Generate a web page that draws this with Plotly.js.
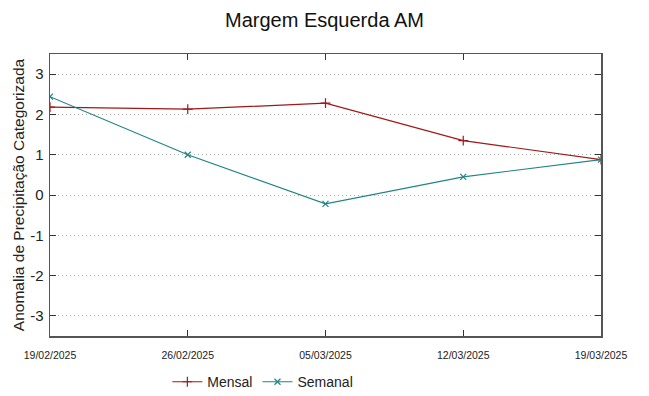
<!DOCTYPE html>
<html><head><meta charset="utf-8">
<script src="https://cdn.plot.ly/plotly-3.0.1.min.js"></script>
<style>html,body{margin:0;padding:0;background:#fff}#chart{width:649px;height:396px}</style>
</head><body><div id="chart"></div>
<script>
const dates = ['2025-02-19','2025-02-26','2025-03-05','2025-03-12','2025-03-19'];
const tickLabels = ['19/02/2025','26/02/2025','05/03/2025','12/03/2025','19/03/2025'];
const mensal = [2.18, 2.13, 2.28, 1.35, 0.88];
const semanal = [2.44, 1.00, -0.22, 0.45, 0.88];
const yTicks = [-3,-2,-1,0,1,2,3];
const yTickText = ['-3','-2','-1','0','1','2','3'];

const traces = [
  {x: dates, y: mensal, name: 'Mensal', type: 'scatter', mode: 'lines+markers',
   line: {color: '#a01818', width: 1.2},
   marker: {symbol: 'cross-thin', size: 7, line: {color: '#a01818', width: 1.2}}},
  {x: dates, y: semanal, name: 'Semanal', type: 'scatter', mode: 'lines+markers',
   line: {color: '#1f8585', width: 1.2},
   marker: {symbol: 'x-thin', size: 6, line: {color: '#1f8585', width: 1.2}}}
];

const layout = {
  width: 649, height: 396,
  margin: {l: 50, r: 48, t: 54, b: 60},
  paper_bgcolor: '#fff', plot_bgcolor: '#fff',
  font: {family: 'Liberation Sans, Arial, sans-serif', color: '#222'},
  title: {text: 'Margem Esquerda AM', x: 0.5, xanchor: 'center', y: 0.95, yanchor: 'middle',
          font: {size: 20, color: '#111'}},
  xaxis: {type: 'date', range: [dates[0], dates[dates.length-1]],
          tickvals: dates, ticktext: tickLabels, automargin: false,
          tickfont: {size: 10.5, color: '#222'},
          ticks: 'inside', ticklen: 6, tickcolor: '#333', mirror: 'ticks',
          showline: true, linecolor: '#555', linewidth: 1.5,
          showgrid: false, zeroline: false, ticklabelstandoff: 9},
  yaxis: {range: [-3.5, 3.5], tickvals: yTicks, ticktext: yTickText, automargin: false,
          tickfont: {size: 15, color: '#222'},
          ticks: 'inside', ticklen: 6, tickcolor: '#333', mirror: 'ticks',
          showline: true, linecolor: '#555', linewidth: 1.5,
          showgrid: true, gridcolor: '#aaa', griddash: '1px,3px', gridwidth: 1,
          zeroline: false, ticklabelstandoff: 2,
          title: {text: 'Anomalia de Precipitação Categorizada', font: {size: 15.5, color: '#222'}, standoff: 1}},
  legend: {orientation: 'h', x: 0.405, xanchor: 'center', xref: 'container',
           y: 0.035, yanchor: 'middle', yref: 'container',
           font: {size: 14, color: '#222'}},
  showlegend: true
};
Plotly.newPlot('chart', traces, layout, {displayModeBar: false, staticPlot: true});
</script></body></html>
